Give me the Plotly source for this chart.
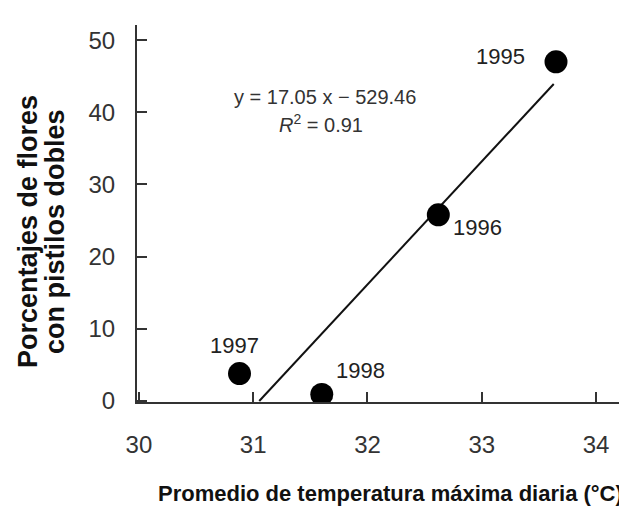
import plotly.graph_objects as go

years = ["1995", "1996", "1997", "1998"]
temp = [33.65, 32.62, 30.88, 31.60]
pct = [47.0, 25.8, 3.8, 0.9]
slope = 17.05
intercept = -529.46
fit_x = [31.053, 33.63]
x_ticks = [30, 31, 32, 33, 34]
y_ticks = [0, 10, 20, 30, 40, 50]

FONT = "Liberation Sans, Arial, sans-serif"

fig = go.Figure()
fig.add_trace(go.Scatter(
    x=fit_x, y=[slope * v + intercept for v in fit_x], mode="lines",
    line=dict(color="#111111", width=2), showlegend=False, hoverinfo="skip"))
fig.add_trace(go.Scatter(
    x=temp, y=pct, mode="markers",
    marker=dict(color="#000000", size=23), showlegend=False))

label_shift = {"1995": (-56, 5), "1996": (39, -13), "1997": (-5, 28), "1998": (39, 24)}
for yr, xv, yv in zip(years, temp, pct):
    dx, dy = label_shift[yr]
    fig.add_annotation(x=xv, y=yv, text=yr, showarrow=False, xshift=dx, yshift=dy,
                       font=dict(family=FONT, size=22, color="#222222"))

fig.add_annotation(x=31.63, y=42.1, text="y = 17.05 x − 529.46", showarrow=False,
                   font=dict(family=FONT, size=20, color="#333333"))
fig.add_annotation(x=31.59, y=38.5, text="<i>R</i><sup>2</sup> = 0.91", showarrow=False,
                   font=dict(family=FONT, size=20, color="#333333"))

fig.add_annotation(xref="paper", yref="paper", x=0.524, y=-0.244, yanchor="middle",
                   xanchor="center",
                   text="<b>Promedio de temperatura máxima diaria (°C)</b>", showarrow=False,
                   font=dict(family=FONT, size=22, color="#111111"))
for txt, px in [("Porcentajes de flores", -0.2257), ("con pistilos dobles", -0.1698)]:
    fig.add_annotation(xref="paper", yref="paper", x=px, y=0.4536, textangle=-90,
                       xanchor="center", yanchor="middle",
                       text="<b>" + txt + "</b>", showarrow=False,
                       font=dict(family=FONT, size=27, color="#111111"))

fig.update_layout(
    width=619, height=502,
    margin=dict(l=129, r=7, t=17, b=108),
    paper_bgcolor="white", plot_bgcolor="white",
    font=dict(family=FONT, color="#333333"),
    xaxis=dict(range=[29.983, 34.21], tickvals=x_ticks, ticks="inside", ticklen=10,
               tickwidth=2, tickcolor="#333333", showline=True, linecolor="#333333",
               linewidth=2, showgrid=False, zeroline=False, automargin=False,
               tickfont=dict(family=FONT, size=24, color="#333333"),
               ticklabelstandoff=20),
    yaxis=dict(range=[-0.14, 52.1], tickvals=y_ticks, ticks="inside", ticklen=10,
               tickwidth=2, tickcolor="#333333", showline=True, linecolor="#333333",
               linewidth=2, showgrid=False, zeroline=False, automargin=False,
               tickfont=dict(family=FONT, size=24, color="#333333"),
               ticklabelstandoff=15),
)

fig.write_html("out.html")
